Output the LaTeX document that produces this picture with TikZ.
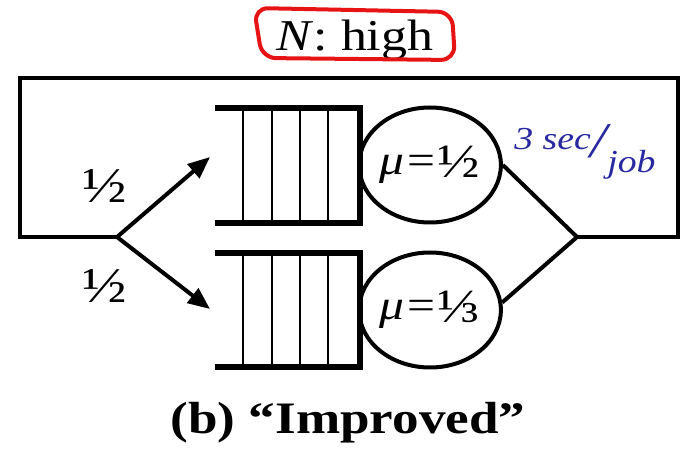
\documentclass[tikz,border=0pt]{standalone}
\usepackage{fontspec}
\usepackage{graphicx}
\setmainfont{Liberation Serif}[FakeStretch=1.18]
\usetikzlibrary{shapes.geometric,arrows.meta}
\definecolor{inkblue}{RGB}{40,40,160}
\definecolor{markred}{RGB}{230,20,20}
\newcommand\myfr[1]{\raisebox{-0.08em}{\scalebox{1.14}{#1}}}
\tikzset{
  loopline/.style={line width=4pt,line join=miter},
  arrowline/.style={line width=4pt,-{Triangle[length=22pt,width=18pt]}},
  qthick/.style={line width=6pt},
  qthin/.style={line width=2pt},
  server/.style={ellipse,draw,line width=4pt,minimum width=140pt,minimum height=115pt,inner sep=0pt,font=\fontsize{42}{44}\selectfont},
  lbl/.style={font=\fontsize{44}{48}\selectfont,inner sep=0pt,anchor=base},
}
\begin{document}
\begin{tikzpicture}[x=1pt,y=-1pt]
\useasboundingbox (0,0) rectangle (681,449);
% coordinates
\coordinate (split) at (117,237);
\coordinate (join) at (577,237);
\coordinate (br) at (678,237);
\coordinate (tr) at (678,78);
\coordinate (tl) at (20,78);
\coordinate (bl) at (20,237);
\coordinate (in1) at (210,157);
\coordinate (in2) at (210,309);
% servers
\node[server] (s1) at (430,165) {\textit{μ}\kern0.06em=\kern0.06em\myfr{½}};
\node[server] (s2) at (430,310) {\textit{μ}\kern0.06em=\kern0.06em\myfr{⅓}};
% queues
\foreach \yt/\yb in {108/223,253/367}{
  \foreach \x in {243,272,300,328}{\draw[qthin] (\x,\yt) -- (\x,\yb);}
  \draw[qthick] (215,\yt) -- (360,\yt) -- (360,\yb) -- (215,\yb);
}
% loop
\draw[loopline] (s1.east) -- (join) -- (s2.6);
\draw[loopline] (join) -- (br) -- (tr) -- (tl) -- (bl) -- (split);
\draw[arrowline] (split) -- (in1);
\draw[arrowline] (split) -- (in2);
% labels
\node[lbl] (p1) at (105,199) {\myfr{½}};
\node[lbl] (p2) at (105,299) {\myfr{½}};
\node[lbl] (title) at (355,51) {\textit{N}: high};
\node[lbl,font=\fontsize{45}{50}\selectfont\bfseries] (cap) at (348,433) {(b) “Improved”};
% annotations
\draw[markred,line width=4pt,rounded corners=14pt] (254,8) -- (452,12) -- (455,60) -- (262,58) -- cycle;
\node[inkblue,font=\fontsize{32}{34}\selectfont\itshape,inner sep=0pt] (note) at (585,152) {3 sec\raisebox{-0.25em}{\fontsize{50}{50}\selectfont /}\raisebox{-0.7em}{job}};
\end{tikzpicture}
\end{document}
